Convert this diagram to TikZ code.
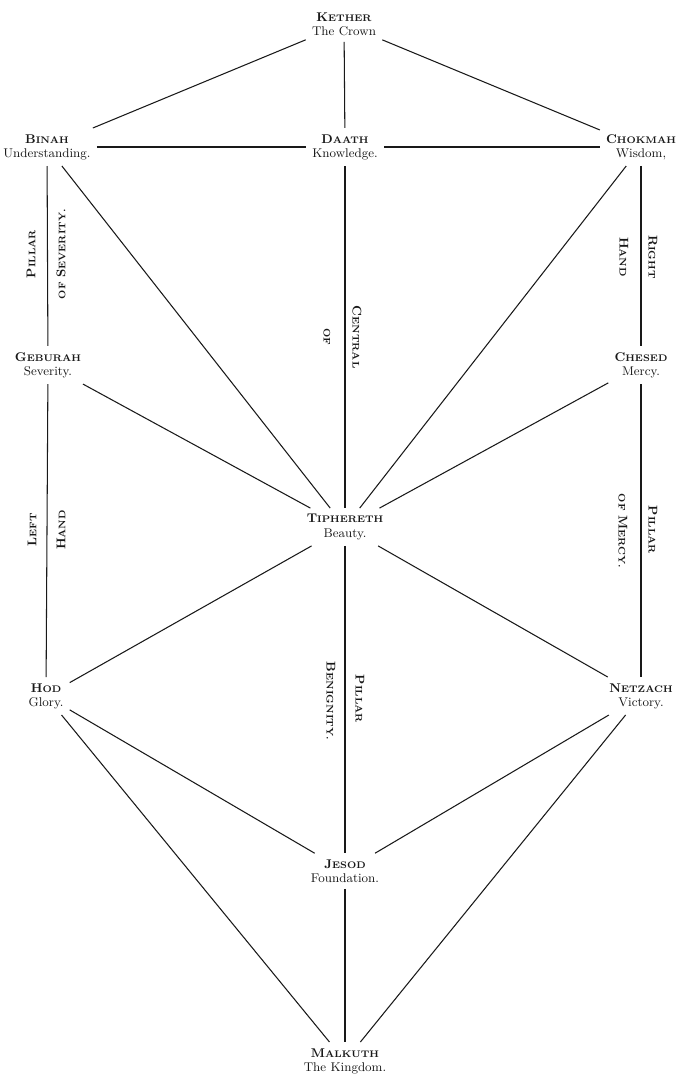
\documentclass[tikz,border=0pt]{standalone}
\usepackage{fontspec}
\usepackage{tikz}
\usetikzlibrary{positioning}
\definecolor{InkBlack}{RGB}{25,25,25}
% bold small capitals as printed: large initial, small rest
\newcommand{\bsc}[2]{{\bfseries #1{\fontsize{6.8}{8}\selectfont #2}}}

\begin{document}
\begin{tikzpicture}[x=0.025cm,y=-0.025cm,
    sephira/.style={align=center,font=\small,inner sep=1.5pt,outer sep=3pt,
      text=InkBlack,execute at begin node=\setlength{\baselineskip}{10pt}},
    pillarup/.style={rotate=90,font=\small,text=InkBlack,inner sep=0pt},
    pillardown/.style={rotate=-90,font=\small,text=InkBlack,inner sep=0pt},
    sephpath/.style={draw=InkBlack,line width=0.75pt}]
  \useasboundingbox (0,0) rectangle (682,1076);
  % the ten sephiroth and Daath
  \node[sephira] (kether)    at (344,24)   {\bsc{K}{ETHER}\\The Crown};
  \node[sephira] (binah)     at (47,147)   {\bsc{B}{INAH}\\Understanding.};
  \node[sephira] (daath)     at (345,147)  {\bsc{D}{AATH}\\Knowledge.};
  \node[sephira] (chokmah)   at (641,147)  {\bsc{C}{HOKMAH}\\Wisdom,};
  \node[sephira] (geburah)   at (48,365)   {\bsc{G}{EBURAH}\\Severity.};
  \node[sephira] (chesed)    at (641,365)  {\bsc{C}{HESED}\\Mercy.};
  \node[sephira] (tiphereth) at (345,527)  {\bsc{T}{IPHERETH}\\Beauty.};
  \node[sephira] (hod)       at (46,696)   {\bsc{H}{OD}\\Glory.};
  \node[sephira] (netzach)   at (641,696)  {\bsc{N}{ETZACH}\\Victory.};
  \node[sephira] (jesod)     at (345,871)  {\bsc{J}{ESOD}\\Foundation.};
  \node[sephira] (malkuth)   at (345,1061) {\bsc{M}{ALKUTH}\\The Kingdom.};
  % paths
  \foreach \a/\b in {kether/binah,kether/daath,kether/chokmah,binah/daath,
      daath/chokmah,binah/geburah,binah/tiphereth,daath/tiphereth,
      chokmah/tiphereth,chokmah/chesed,geburah/tiphereth,chesed/tiphereth,
      geburah/hod,chesed/netzach,tiphereth/hod,tiphereth/netzach,
      tiphereth/jesod,hod/jesod,netzach/jesod,hod/malkuth,netzach/malkuth,
      jesod/malkuth}
    \draw[sephpath] (\a) -- (\b);
  % pillar labels
  \node[pillarup] (sevA) at (31,254) {\bsc{P}{ILLAR}};
  \node[pillarup] (sevB) at (61,254) {\bsc{}{OF} \bsc{S}{EVERITY.}};
  \node[pillarup] (leftA) at (32,530) {\bsc{L}{EFT}};
  \node[pillarup] (leftB) at (61,530) {\bsc{H}{AND}};
  \node[pillardown] (rightA) at (653,257) {\bsc{R}{IGHT}};
  \node[pillardown] (rightB) at (624,257) {\bsc{H}{AND}};
  \node[pillardown] (mercyA) at (653,530) {\bsc{P}{ILLAR}};
  \node[pillardown] (mercyB) at (623,531) {\bsc{}{OF} \bsc{M}{ERCY.}};
  \node[pillardown] (centA) at (357,337) {\bsc{C}{ENTRAL}};
  \node[pillardown] (centB) at (327,337) {\bsc{}{OF}};
  \node[pillardown] (benA) at (360,699) {\bsc{P}{ILLAR}};
  \node[pillardown] (benB) at (331,701) {\bsc{B}{ENIGNITY.}};
\end{tikzpicture}
\end{document}
